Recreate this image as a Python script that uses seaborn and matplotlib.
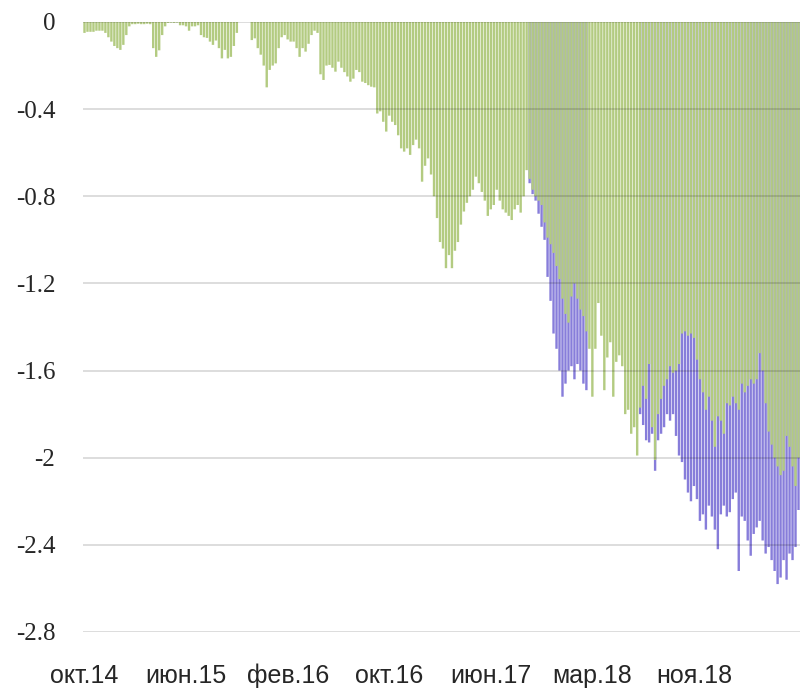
import numpy as np
import pandas as pd
import matplotlib
matplotlib.use('Agg')
import matplotlib.pyplot as plt
import seaborn as sns

# Значення (один стовпчик ~ тиждень)
green_vals = [
    -0.05, -0.045, -0.045, -0.045, -0.04, -0.04, -0.04, -0.05, -0.07, -0.09,
    -0.11, -0.12, -0.128, -0.105, -0.06, -0.02, -0.01, -0.01, -0.008, -0.01,
    -0.01, -0.008, -0.01, -0.12, -0.16, -0.13, -0.06, -0.02, -0.004, -0.003,
    -0.004, -0.003, -0.015, -0.015, -0.02, -0.04, -0.02, -0.02, -0.015, -0.06,
    -0.07, -0.073, -0.09, -0.105, -0.085, -0.12, -0.167, -0.128, -0.167, -0.16,
    -0.11, -0.05, 0, 0, 0, 0, -0.083, -0.075, -0.12, -0.15,
    -0.2, -0.30, -0.22, -0.2, -0.19, -0.12, -0.07, -0.06, -0.08, -0.09,
    -0.09, -0.12, -0.16, -0.12, -0.136, -0.10, -0.06, -0.04, -0.05, -0.24,
    -0.266, -0.2, -0.197, -0.21, -0.228, -0.182, -0.21, -0.23, -0.25, -0.274,
    -0.26, -0.22, -0.23, -0.274, -0.28, -0.29, -0.297, -0.30, -0.42, -0.41,
    -0.458, -0.503, -0.43, -0.458, -0.473, -0.52, -0.58, -0.595, -0.58, -0.61,
    -0.565, -0.54, -0.58, -0.733, -0.66, -0.626, -0.70, -0.80, -0.90, -1.01,
    -1.04, -1.13, -1.07, -1.13, -1.05, -1.01, -0.93, -0.87, -0.83, -0.80,
    -0.77, -0.71, -0.74, -0.78, -0.82, -0.89, -0.86, -0.84, -0.77, -0.82,
    -0.86, -0.875, -0.89, -0.909, -0.86, -0.84, -0.875, -0.80, -0.68, -0.72,
    -0.77, -0.80, -0.82, -0.84, -0.92, -0.99, -1.02, -1.06, -1.12, -1.18,
    -1.27, -1.34, -1.38, -1.26, -1.20, -1.27, -1.32, -1.35, -1.42, -1.50,
    -1.72, -1.50, -1.29, -1.44, -1.69, -1.54, -1.47, -1.72, -1.56, -1.53,
    -1.58, -1.80, -1.78, -1.89, -1.86, -1.99, -1.77, -1.67, -1.73, -1.57,
    -1.86, -2.01, -1.80, -1.73, -1.67, -1.64, -1.58, -1.61, -1.60, -1.57,
    -1.43, -1.42, -1.44, -1.43, -1.45, -1.55, -1.64, -1.70, -1.78, -1.72,
    -1.83, -1.95, -1.81, -1.83, -1.89, -1.75, -1.76, -1.72, -1.75, -1.78,
    -1.66, -1.70, -1.67, -1.64, -1.66, -1.64, -1.52, -1.60, -1.75, -1.88,
    -1.94, -2.0, -2.04, -2.08, -2.06, -1.90, -1.95, -2.04, -2.13, -2.0,
]

# Синя серія видна лише там, де вона нижче зеленої; решта невідома
blue_vals = [None] * 149 + [
    -0.74,
    -0.79, -0.82, -0.88, -0.94, -1.0, -1.17, -1.28, -1.43, -1.50, -1.60,
    -1.72, -1.66, -1.60, -1.58, -1.64, -1.57, -1.60, -1.66, -1.69, None,
] + [None] * 16 + [
    -1.80, -1.85, -1.92, -1.93,
    -1.89, -2.06, -1.92, -1.89, -1.86, -1.80, -1.83, -1.80, -1.90, -1.99,
    -2.02, -2.10, -2.16, -2.20, -2.13, -2.19, -2.29, -2.26, -2.33, -2.22,
    -2.27, -2.33, -2.42, -2.26, -2.22, -2.27, -2.25, -2.19, -2.16, -2.52,
    -2.27, -2.29, -2.38, -2.45, -2.35, -2.32, -2.29, -2.38, -2.44, -2.41,
    -2.47, -2.52, -2.58, -2.55, -2.47, -2.56, -2.44, -2.47, -2.41, -2.24,
]

x_labels = ['окт.14', 'июн.15', 'фев.16', 'окт.16', 'июн.17', 'мар.18', 'ноя.18']
label_step = 34
y_ticks = [0, -0.4, -0.8, -1.2, -1.6, -2, -2.4, -2.8]
y_labels = ['0', '-0.4', '-0.8', '-1.2', '-1.6', '-2', '-2.4', '-2.8']

n = len(green_vals)
df = pd.DataFrame({
    'slot': range(n),
    'green': pd.Series(green_vals, dtype='float'),
    'blue': pd.Series(blue_vals, dtype='float'),
})

sns.set_theme(style='white')
plt.rcParams['font.family'] = ['Liberation Sans', 'DejaVu Sans']

fig = plt.figure(figsize=(8, 6.94), dpi=100)
ax = fig.add_axes([83 / 800, 62 / 694, 717 / 800, 610 / 694])

order = list(range(n))
# спочатку синя, зелена поверх неї на тих самих позиціях
sns.barplot(data=df, x='slot', y='blue', order=order, color='#877dda',
            saturation=1, width=0.8, errorbar=None, linewidth=0, ax=ax)
sns.barplot(data=df, x='slot', y='green', order=order, color='#b3cb81',
            saturation=1, width=0.8, errorbar=None, linewidth=0, ax=ax)
# без прив'язки до пікселів, щоб смужки були рівномірні
for p in ax.patches:
    p.set_snap(False)

ax.set_xlim(-0.5, n - 0.5)
ax.set_ylim(-2.8, 0)
ax.set_xlabel('')
ax.set_ylabel('')

ax.set_yticks(y_ticks)
ax.set_yticklabels(y_labels, fontfamily='Liberation Serif', fontsize=18)
ax.set_xticks([i * label_step for i in range(len(x_labels))])
ax.set_xticklabels(x_labels, fontsize=18)
ax.tick_params(axis='y', length=0, pad=20)
ax.tick_params(axis='x', length=0, pad=23)

ax.grid(axis='y', color='black', alpha=0.15, linewidth=1.3)
ax.grid(axis='x', visible=False)
ax.set_axisbelow(False)
for s in ax.spines.values():
    s.set_visible(False)

fig.savefig('out.png', dpi=100)
